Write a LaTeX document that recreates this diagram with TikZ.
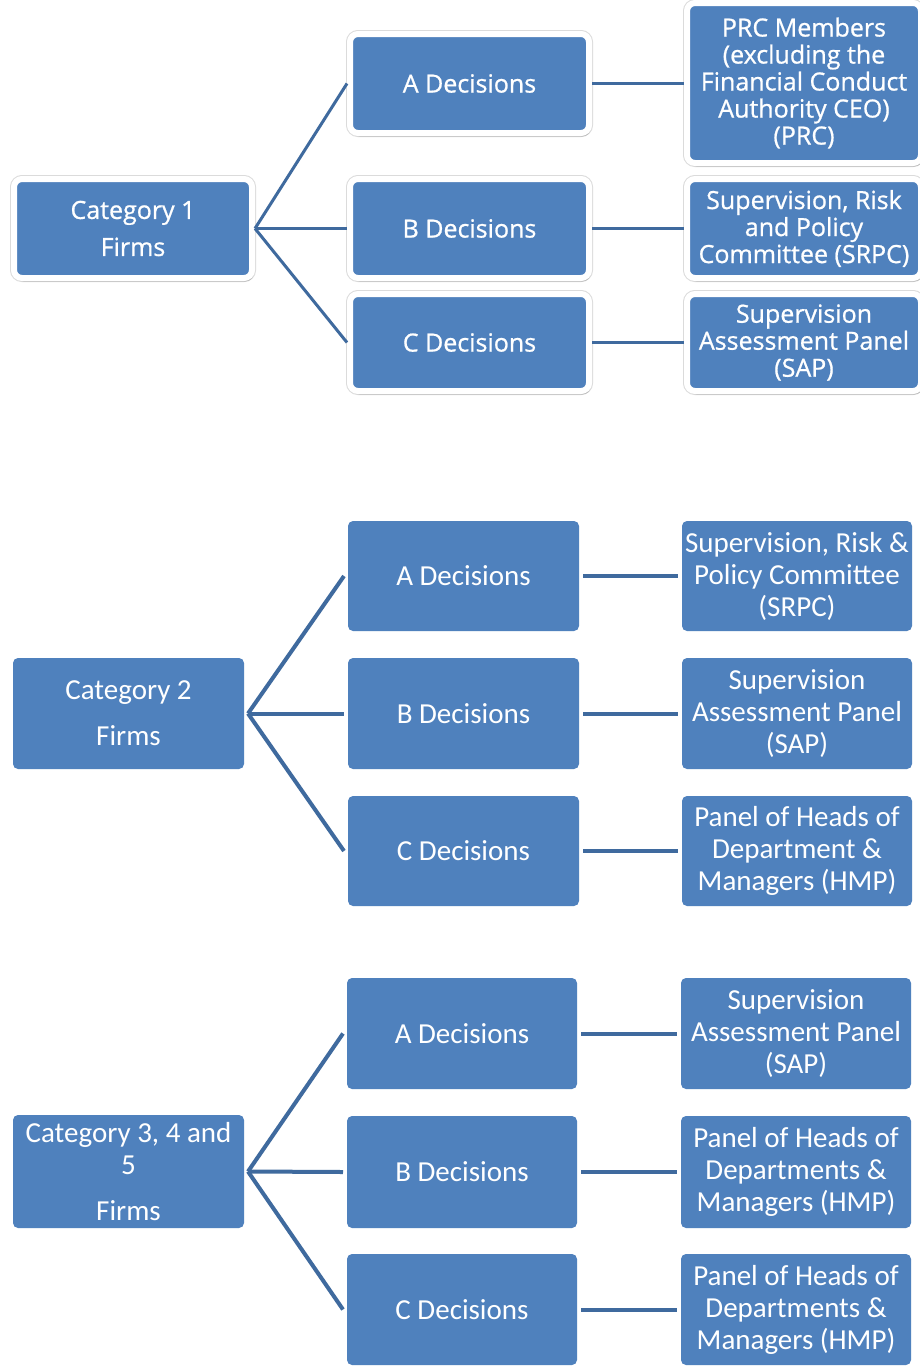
\documentclass[tikz,border=0pt]{standalone}
\usepackage{fontspec}
\newfontfamily\fonta[BoldFont=Open Sans, BoldFeatures={FakeBold=0.8}]{Open Sans}
\newfontfamily\fontb{Carlito}
\usetikzlibrary{shadows}
\definecolor{boxblue}{HTML}{4F81BD}
\definecolor{linec}{HTML}{3F6A9E}
\tikzset{
  boxa/.style={fill=boxblue, draw=white, line width=6pt, rounded corners=8pt,
    text=white, align=center, inner sep=2pt,
    font=\fonta\bfseries\fontsize{25}{27}\selectfont,
    preaction={draw=black!14, line width=8pt},
    drop shadow={shadow xshift=1.5pt, shadow yshift=-3.5pt, opacity=0.35, fill=black!55}},
  boxb/.style={fill=boxblue, draw=none, rounded corners=5pt, outer sep=4pt,
    text=white, align=center, inner sep=2pt,
    font=\fontb\fontsize{29}{32}\selectfont},
  conna/.style={draw=linec, line width=3pt},
  connb/.style={draw=linec, line width=4pt},
}
\begin{document}
\begin{tikzpicture}[x=1pt,y=-1pt]
\fill[white] (0,0) rectangle (920,1369);
\useasboundingbox (0,0) rectangle (920,1369);

% ---------- Section 1 ----------
\node[boxa, minimum width=238pt, minimum height=99pt] (cat1) at (133,228.5) {Category 1\\[10pt]Firms};
\node[boxa, minimum width=239pt, minimum height=99pt] (a1) at (469.5,83.5) {A Decisions};
\node[boxa, minimum width=239pt, minimum height=99pt] (b1) at (469.5,228.5) {B Decisions};
\node[boxa, minimum width=239pt, minimum height=97pt] (c1) at (469.5,342.5) {C Decisions};
\node[boxa, minimum width=234pt, minimum height=160pt] (r1a) at (804,83) {PRC Members\\(excluding the\\Financial Conduct\\Authority CEO)\\(PRC)};
\node[boxa, minimum width=234pt, minimum height=99pt] (r1b) at (804,228.5) {Supervision, Risk\\and Policy\\Committee (SRPC)};
\node[boxa, minimum width=234pt, minimum height=97pt] (r1c) at (804,342.5) {Supervision\\Assessment Panel\\(SAP)};

\draw[conna] (cat1.east) -- (a1.west);
\draw[conna] (cat1.east) -- (b1.west);
\draw[conna] (cat1.east) -- (c1.west);
\draw[conna] (a1.east) -- (a1.east -| r1a.west);
\draw[conna] (b1.east) -- (b1.east -| r1b.west);
\draw[conna] (c1.east) -- (c1.east -| r1c.west);

% ---------- Section 2 ----------
\node[boxb, minimum width=231pt, minimum height=111pt] (cat2) at (128.5,713.5) {Category 2\\[14pt]Firms};
\node[boxb, minimum width=231pt, minimum height=110pt] (a2) at (463.5,576) {A Decisions};
\node[boxb, minimum width=231pt, minimum height=111pt] (b2) at (463.5,713.5) {B Decisions};
\node[boxb, minimum width=231pt, minimum height=110pt] (c2) at (463.5,851) {C Decisions};
\node[boxb, minimum width=230pt, minimum height=110pt] (r2a) at (797,576) {Supervision, Risk \&\\Policy Committee\\(SRPC)};
\node[boxb, minimum width=230pt, minimum height=111pt] (r2b) at (797,713.5) {Supervision\\Assessment Panel\\(SAP)};
\node[boxb, minimum width=230pt, minimum height=110pt] (r2c) at (797,851) {Panel of Heads of\\Department \&\\Managers (HMP)};

\draw[connb] (cat2.east) -- (a2.west);
\draw[connb] (cat2.east) -- (b2.west);
\draw[connb] (cat2.east) -- (c2.west);
\draw[connb] (a2.east) -- (r2a.west);
\draw[connb] (b2.east) -- (r2b.west);
\draw[connb] (c2.east) -- (r2c.west);

% ---------- Section 3 ----------
\node[boxb, minimum width=231pt, minimum height=113pt] (cat3) at (128.5,1171.5) {Category 3, 4 and\\5\\[14pt]Firms};
\node[boxb, minimum width=230pt, minimum height=111pt] (a3) at (462,1033.5) {A Decisions};
\node[boxb, minimum width=230pt, minimum height=112pt] (b3) at (462,1172) {B Decisions};
\node[boxb, minimum width=230pt, minimum height=111pt] (c3) at (462,1309.5) {C Decisions};
\node[boxb, minimum width=230pt, minimum height=111pt] (r3a) at (796,1033.5) {Supervision\\Assessment Panel\\(SAP)};
\node[boxb, minimum width=230pt, minimum height=112pt] (r3b) at (796,1172) {Panel of Heads of\\Departments \&\\Managers (HMP)};
\node[boxb, minimum width=230pt, minimum height=111pt] (r3c) at (796,1309.5) {Panel of Heads of\\Departments \&\\Managers (HMP)};

\draw[connb] (cat3.east) -- (a3.west);
\draw[connb] (cat3.east) -- (b3.west);
\draw[connb] (cat3.east) -- (c3.west);
\draw[connb] (a3.east) -- (r3a.west);
\draw[connb] (b3.east) -- (r3b.west);
\draw[connb] (c3.east) -- (r3c.west);
\end{tikzpicture}
\end{document}
